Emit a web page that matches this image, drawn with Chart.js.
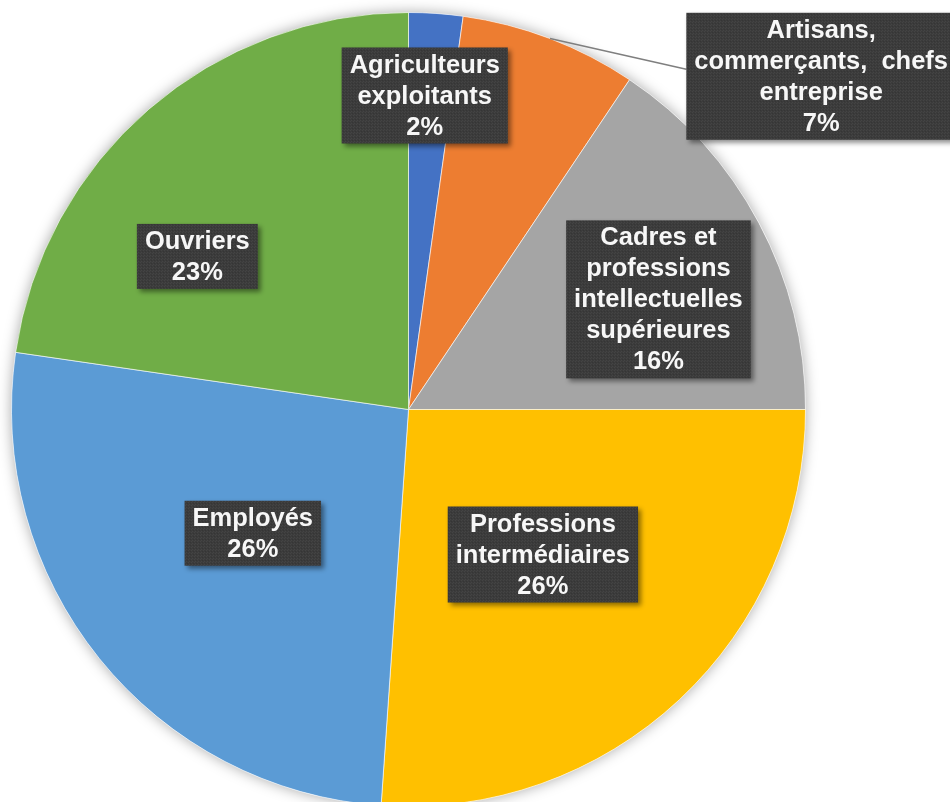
<!DOCTYPE html>
<html>
<head>
<meta charset="utf-8">
<script src="https://cdn.jsdelivr.net/npm/chart.js@4.4.1/dist/chart.umd.min.js"></script>
<style>
  html, body { margin: 0; padding: 0; background: #fff; overflow: hidden; }
  #wrap { width: 950px; height: 812px; }
</style>
</head>
<body>
<div id="wrap"><canvas id="pie" width="950" height="812"></canvas></div>
<script>
// categories (wrapped the way the labels show them) and shares in %
var categories = [
  ["Agriculteurs", "exploitants"],
  ["Artisans,", "commerçants,  chefs", "entreprise"],
  ["Cadres et", "professions", "intellectuelles", "supérieures"],
  ["Professions", "intermédiaires"],
  ["Employés"],
  ["Ouvriers"]
];
var shares = [2.2, 7.2, 15.6, 26.1, 26.2, 22.7];
var sliceColors = ["#4472C4", "#ED7D31", "#A5A5A5", "#FFC000", "#5B9BD5", "#70AD47"];

// label placement: shift from slice mid-angle (deg) and distance as part of radius
var labelAngleShift = [-1, 30.2, 4.3, 0.2, 0.4, -13.2];
var labelRadius = [0.792, 1.336, 0.688, 0.498, 0.501, 0.657];
var labelLeader = [false, true, false, false, false, false];

// little dotted texture like the excel label boxes
function makePattern(ctx) {
  var c = document.createElement("canvas");
  c.width = 3; c.height = 3;
  var p = c.getContext("2d");
  p.fillStyle = "#3b3b3b";
  p.fillRect(0, 0, 3, 3);
  p.fillStyle = "#444444";
  p.fillRect(0, 0, 1, 1);
  p.fillRect(2, 1, 1, 1);
  p.fillStyle = "#353535";
  p.fillRect(1, 2, 1, 1);
  return ctx.createPattern(c, "repeat");
}

// soft shadow under the whole pie
var pieShadow = {
  id: "pieShadow",
  beforeDatasetsDraw: function(chart) {
    var arc = chart.getDatasetMeta(0).data[0];
    if (!arc) return;
    var ctx = chart.ctx;
    ctx.save();
    ctx.shadowColor = "rgba(0,0,0,0.35)";
    ctx.shadowBlur = 14;
    ctx.fillStyle = "#ffffff";
    ctx.beginPath();
    ctx.arc(arc.x, arc.y, arc.outerRadius, 0, Math.PI * 2);
    ctx.fill();
    ctx.restore();
  }
};

var boxLabels = {
  id: "boxLabels",
  afterDatasetsDraw: function(chart) {
    var ctx = chart.ctx;
    var meta = chart.getDatasetMeta(0);
    var pattern = makePattern(ctx);
    var lineH = 31;
    ctx.save();
    ctx.font = "bold 25.5px 'Liberation Sans', Arial, sans-serif";
    meta.data.forEach(function(arc, i) {
      var p = arc.getProps(["x", "y", "startAngle", "endAngle", "outerRadius"], true);
      var mid = (p.startAngle + p.endAngle) / 2;
      var a = mid + labelAngleShift[i] * Math.PI / 180;
      var cx = p.x + Math.cos(a) * p.outerRadius * labelRadius[i];
      var cy = p.y + Math.sin(a) * p.outerRadius * labelRadius[i];

      var lines = categories[i].slice();
      lines.push(Math.round(shares[i]) + "%");
      var w = 0;
      lines.forEach(function(l) { w = Math.max(w, ctx.measureText(l).width); });
      w += 16;
      var h = lines.length * lineH + 3;
      var left = cx - w / 2, top = cy - h / 2;

      if (labelLeader[i]) {
        var sx = p.x + Math.cos(mid) * p.outerRadius;
        var sy = p.y + Math.sin(mid) * p.outerRadius;
        ctx.strokeStyle = "#7f7f7f";
        ctx.lineWidth = 1.5;
        ctx.beginPath();
        ctx.moveTo(sx, sy);
        ctx.lineTo(left, cy - 7);
        ctx.stroke();
      }

      ctx.save();
      ctx.shadowColor = "rgba(0,0,0,0.45)";
      ctx.shadowBlur = 5;
      ctx.shadowOffsetX = 3;
      ctx.shadowOffsetY = 3;
      ctx.fillStyle = pattern;
      ctx.fillRect(left, top, w, h);
      ctx.restore();

      ctx.fillStyle = "#f7f7f7";
      ctx.textAlign = "center";
      ctx.textBaseline = "middle";
      lines.forEach(function(l, k) {
        ctx.fillText(l, cx, top + 1.5 + lineH * k + lineH / 2 + 1);
      });
    });
    ctx.restore();
  }
};

var ctx = document.getElementById("pie").getContext("2d");
new Chart(ctx, {
  type: "pie",
  data: {
    labels: categories,
    datasets: [{
      data: shares,
      backgroundColor: sliceColors,
      borderColor: "rgba(255,255,255,0.6)",
      borderWidth: 1
    }]
  },
  options: {
    responsive: false,
    animation: false,
    layout: { padding: { left: 11, top: 12, right: 144, bottom: 5 } },
    plugins: {
      legend: { display: false },
      tooltip: { enabled: false }
    }
  },
  plugins: [pieShadow, boxLabels]
});
</script>
</body>
</html>
